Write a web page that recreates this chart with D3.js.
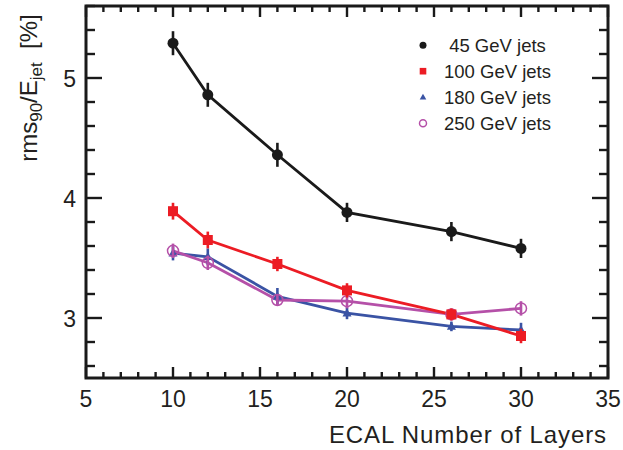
<!DOCTYPE html>
<html>
<head>
<meta charset="utf-8">
<script src="https://cdn.jsdelivr.net/npm/d3@7/dist/d3.min.js"></script>
<style>
  html, body { margin: 0; padding: 0; background: #fff; }
  svg { display: block; font-family: "Liberation Sans", Arial, Helvetica, sans-serif; }
</style>
</head>
<body>
<svg id="chart" width="623" height="450"></svg>
<script>
// Number of ECAL layers scanned
const layers = [10, 12, 16, 20, 26, 30];

// Jet energy resolution rms90/E_jet in % per jet energy
const res45  = [5.29, 4.86, 4.36, 3.88, 3.72, 3.58];
const res100 = [3.89, 3.65, 3.45, 3.23, 3.03, 2.85];
const res180 = [3.54, 3.51, 3.18, 3.04, 2.93, 2.90];
const res250 = [3.56, 3.46, 3.15, 3.14, 3.03, 3.08];

// Statistical uncertainties (absolute, %)
const err45  = [0.10, 0.10, 0.10, 0.08, 0.08, 0.08];
const err100 = [0.07, 0.07, 0.06, 0.06, 0.05, 0.06];
const err180 = [0.06, 0.07, 0.07, 0.05, 0.04, 0.06];
const err250 = [0.06, 0.06, 0.05, 0.06, 0.04, 0.06];

const seriesLabels = [" 45 GeV jets", "100 GeV jets", "180 GeV jets", "250 GeV jets"];

const xTicks = [5, 10, 15, 20, 25, 30, 35];
const yTicks = [3, 4, 5];

const series = [
  { label: seriesLabels[0], vals: res45,  errs: err45,  color: "#1a1a1a", shape: "circle" },
  { label: seriesLabels[1], vals: res100, errs: err100, color: "#ec1c24", shape: "square" },
  { label: seriesLabels[2], vals: res180, errs: err180, color: "#3a53a4", shape: "triangle" },
  { label: seriesLabels[3], vals: res250, errs: err250, color: "#b550a8", shape: "open" }
];

const svg = d3.select("#chart");
const L = 86, R = 608, T = 6, B = 378;

const x = d3.scaleLinear().domain([5, 35]).range([L, R]);
const y = d3.scaleLinear().domain([2.5, 5.6]).range([B, T]);

// Axis ticks (ticks on all four sides, pointing inward)
const tickG = svg.append("g").attr("stroke", "#1a1a1a").attr("stroke-width", 2.4);
const xMinor = d3.range(5, 35.01, 1);
xMinor.forEach(v => {
  const major = Math.abs(v % 5) < 1e-6;
  const len = major ? 11 : 6;
  tickG.append("line").attr("x1", x(v)).attr("x2", x(v)).attr("y1", B).attr("y2", B - len);
  tickG.append("line").attr("x1", x(v)).attr("x2", x(v)).attr("y1", T).attr("y2", T + len);
});
const yMinor = d3.range(2.6, 5.601, 0.2);
yMinor.forEach(v => {
  const major = Math.abs(v - Math.round(v)) < 1e-6;
  const len = major ? 16 : 9;
  tickG.append("line").attr("x1", L).attr("x2", L + len).attr("y1", y(v)).attr("y2", y(v));
  tickG.append("line").attr("x1", R).attr("x2", R - len).attr("y1", y(v)).attr("y2", y(v));
});

// Frame
svg.append("rect")
  .attr("x", L).attr("y", T).attr("width", R - L).attr("height", B - T)
  .attr("fill", "none").attr("stroke", "#1a1a1a").attr("stroke-width", 3);

// Tick labels
svg.append("g").selectAll("text").data(xTicks).join("text")
  .attr("x", d => x(d)).attr("y", 407)
  .attr("text-anchor", "middle").attr("font-size", 23).attr("fill", "#231f20")
  .text(d => d);
svg.append("g").selectAll("text").data(yTicks).join("text")
  .attr("x", 76).attr("y", d => y(d) + 8.5)
  .attr("text-anchor", "end").attr("font-size", 23).attr("fill", "#231f20")
  .text(d => d);

// Axis titles
svg.append("text")
  .attr("x", 607).attr("y", 443)
  .attr("text-anchor", "end").attr("font-size", 24).attr("letter-spacing", 0.9)
  .attr("fill", "#231f20")
  .text("ECAL Number of Layers");

const yt = svg.append("text")
  .attr("transform", "translate(37,88) rotate(-90)")
  .attr("text-anchor", "middle").attr("font-size", 24).attr("fill", "#231f20")
  .style("white-space", "pre");
yt.append("tspan").text("rms");
yt.append("tspan").attr("font-size", 17).attr("dy", 5).text("90");
yt.append("tspan").attr("dy", -5).text("/E");
yt.append("tspan").attr("font-size", 17).attr("dy", 5).text("jet");
yt.append("tspan").attr("dy", -5).text("  [%]");

// Lines
const line = d3.line().x(d => x(d[0])).y(d => y(d[1]));
const drawOrder = [0, 2, 3, 1];
drawOrder.forEach(i => {
  const s = series[i];
  svg.append("path")
    .datum(layers.map((l, j) => [l, s.vals[j]]))
    .attr("d", line).attr("fill", "none")
    .attr("stroke", s.color).attr("stroke-width", 2.8);
});

// Marker drawing helper
function marker(g, shape, color, cx, cy, size) {
  if (shape === "circle") {
    g.append("circle").attr("cx", cx).attr("cy", cy).attr("r", size).attr("fill", color);
  } else if (shape === "square") {
    g.append("rect").attr("x", cx - size).attr("y", cy - size)
      .attr("width", 2 * size).attr("height", 2 * size).attr("fill", color);
  } else if (shape === "triangle") {
    const h = size * 1.8;
    g.append("path")
      .attr("d", `M${cx},${cy - h * 0.6}L${cx + size},${cy + h * 0.4}L${cx - size},${cy + h * 0.4}Z`)
      .attr("fill", color);
  } else {
    g.append("circle").attr("cx", cx).attr("cy", cy).attr("r", size)
      .attr("fill", "none").attr("stroke", color).attr("stroke-width", 1.5);
  }
}

// Error bars and markers
const markerSize = { circle: 5.5, square: 5, triangle: 4.5, open: 5.5 };
drawOrder.forEach(i => {
  const s = series[i];
  const g = svg.append("g");
  layers.forEach((l, j) => {
    g.append("line")
      .attr("x1", x(l)).attr("x2", x(l))
      .attr("y1", y(s.vals[j] + s.errs[j])).attr("y2", y(s.vals[j] - s.errs[j]))
      .attr("stroke", s.color).attr("stroke-width", 2.6);
    marker(g, s.shape, s.color, x(l), y(s.vals[j]), markerSize[s.shape]);
  });
});

// Legend
const legBase = [51.5, 77.5, 103.5, 129.5];
const legSize = { circle: 3.5, square: 3.3, triangle: 3.3, open: 3.5 };
series.forEach((s, i) => {
  const g = svg.append("g");
  marker(g, s.shape, s.color, 423, legBase[i] - 6.3, legSize[s.shape]);
  g.append("text")
    .attr("x", 444).attr("y", legBase[i])
    .attr("font-size", 18.5).attr("fill", "#231f20")
    .style("white-space", "pre")
    .text(s.label);
});
</script>
</body>
</html>
